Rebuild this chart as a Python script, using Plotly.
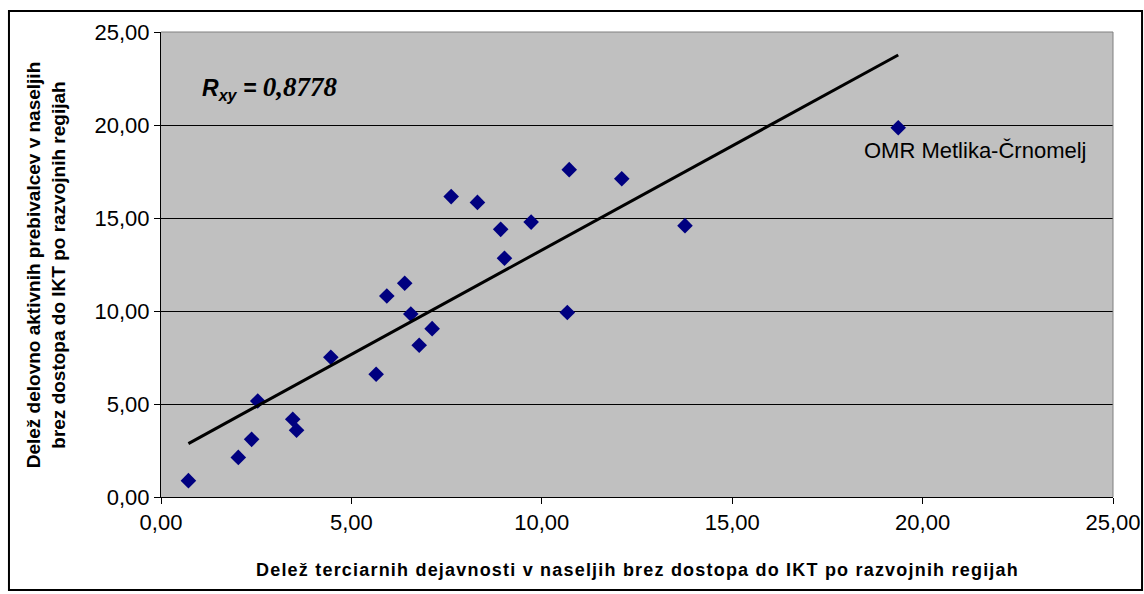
import numpy as np
import plotly.graph_objects as go

# Data
tertiary_share = [0.72, 2.03, 2.38, 2.54, 3.46, 3.56, 4.46, 5.65, 5.93, 6.40, 6.56, 6.78,
                  7.12, 7.62, 8.31, 8.92, 9.02, 9.72, 10.67, 10.72, 12.10, 13.76, 19.36]
active_share = [0.88, 2.13, 3.10, 5.16, 4.18, 3.59, 7.51, 6.60, 10.81, 11.49, 9.84, 8.16,
                9.05, 16.15, 15.84, 14.39, 12.84, 14.78, 9.92, 17.60, 17.11, 14.59, 19.85]
outlier_label = "OMR Metlika-Črnomelj"
r_text = "0,8778"
tick_vals = [0, 5, 10, 15, 20, 25]
tick_text = ["0,00", "5,00", "10,00", "15,00", "20,00", "25,00"]
x_title = "Delež terciarnih dejavnosti v naseljih brez dostopa do IKT po razvojnih regijah"
y_title = "Delež delovno aktivnih prebivalcev v naseljih<br>brez dostopa do IKT po razvojnih regijah"

x = np.array(tertiary_share)
y = np.array(active_share)
slope, intercept = np.polyfit(x, y, 1)
xl = np.array([x.min(), x.max()])
yl = slope * xl + intercept

FONT = "Liberation Sans, Arial, sans-serif"

fig = go.Figure()
fig.add_trace(go.Scatter(x=x, y=y, mode="markers",
                         marker=dict(symbol="diamond", size=12, color="#000080",
                                     line=dict(width=0)),
                         showlegend=False, hoverinfo="skip"))
fig.add_trace(go.Scatter(x=xl, y=yl, mode="lines",
                         line=dict(color="black", width=3),
                         showlegend=False, hoverinfo="skip"))

axis_common = dict(range=[0, 25], tickvals=tick_vals, ticktext=tick_text,
                   showline=True, linecolor="black", linewidth=1,
                   ticks="outside", ticklen=6, tickcolor="black",
                   zeroline=False, automargin=False,
                   tickfont=dict(family=FONT, size=22, color="black"))

fig.update_layout(
    width=1144, height=594,
    margin=dict(l=161, r=31, t=32, b=97, pad=0, autoexpand=False),
    paper_bgcolor="white", plot_bgcolor="#C0C0C0",
    xaxis=dict(**axis_common, showgrid=False),
    yaxis=dict(**axis_common, showgrid=True, gridcolor="black", gridwidth=1),
    font=dict(family=FONT, color="black"),
)

# gray top/right plot-area border
fig.add_shape(type="path", xref="paper", yref="paper",
              path="M 0 1 L 1 1 L 1 0", line=dict(color="#808080", width=1), layer="above")
# outer chart border
fig.add_shape(type="rect", xref="paper", yref="paper",
              x0=-0.1597, x1=1.0305, y0=-0.2, y1=1.045,
              line=dict(color="black", width=2), layer="above")

fig.add_annotation(xref="paper", yref="paper", x=0.5, y=-0.158,
                   text="<span style=\"letter-spacing:1.2px\"><b>" + x_title + "</b></span>",
                   showarrow=False, xanchor="center", yanchor="middle",
                   font=dict(family=FONT, size=18, color="black"))
fig.add_annotation(xref="paper", yref="paper", x=-0.121, y=0.5,
                   text="<b>" + y_title + "</b>", showarrow=False, textangle=-90,
                   xanchor="center", yanchor="middle",
                   font=dict(family=FONT, size=19, color="black"))
fig.add_annotation(xref="paper", yref="paper", x=0.041, y=0.88,
                   text="<b><i>R<sub>xy</sub> = </i></b><span style=\"font-family:'Liberation Serif', 'Times New Roman', serif;font-size:27px\"><b><i>" + r_text + "</i></b></span>",
                   showarrow=False, xanchor="left", yanchor="middle",
                   font=dict(family=FONT, size=23, color="black"))
fig.add_annotation(x=tertiary_share[-1], y=active_share[-1], text=outlier_label,
                   showarrow=False, xanchor="left", yanchor="top",
                   xshift=-36, yshift=-8,
                   font=dict(family=FONT, size=22, color="black"))

fig.write_html("out.html", config={"displayModeBar": False},
               post_script="document.body.style.margin='0';document.body.style.overflow='hidden';")
